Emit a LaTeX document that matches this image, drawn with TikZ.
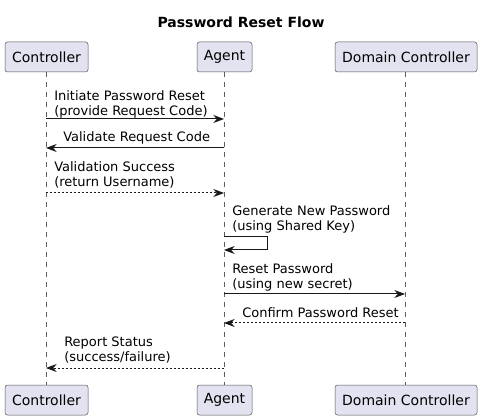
\documentclass[tikz,border=0pt]{standalone}
\usepackage{fontspec}
\setmainfont{DejaVu Sans}
\usetikzlibrary{arrows.meta}
\definecolor{boxfill}{HTML}{E2E2F0}
\definecolor{ink}{HTML}{181818}
\tikzset{
  part/.style={draw=ink!75, fill=boxfill, line width=0.375pt, rounded corners=1.9pt, minimum height=22.5pt, inner sep=0pt, font=\fontsize{10.5pt}{12pt}\selectfont},
  life/.style={draw=ink!70, line width=0.375pt, dash pattern=on 3.75pt off 3.75pt},
  msg/.style={draw=ink, line width=0.75pt, -{Stealth[length=8pt,width=6pt,inset=2.6pt]}},
  reply/.style={msg, dash pattern=on 1.5pt off 1.5pt},
  lbl/.style={anchor=base west, inner sep=0pt, font=\fontsize{9.75pt}{11.25pt}\selectfont},
  ttl/.style={anchor=base, inner sep=0pt, font=\fontsize{10.5pt}{12pt}\selectfont\bfseries}
}
\begin{document}
\begin{tikzpicture}[x=0.75pt,y=-0.75pt]
\useasboundingbox (0,0) rectangle (482,420);
\node[ttl] (title) at (241,28) {Password Reset Flow};
% participants top
\node[part, minimum width=62.25pt] (ct) at (46.5,57) {Controller};
\node[part, minimum width=41.25pt] (at) at (224.5,57) {Agent};
\node[part, minimum width=106.5pt] (dt) at (406,57) {Domain Controller};
% participants bottom
\node[part, minimum width=62.25pt] (cb) at (46.5,400) {Controller};
\node[part, minimum width=41.25pt] (ab) at (224.5,400) {Agent};
\node[part, minimum width=106.5pt] (db) at (406,400) {Domain Controller};
% lifelines
\coordinate (cT) at (46,72); \coordinate (cB) at (46,385);
\coordinate (aT) at (224,72); \coordinate (aB) at (224,385);
\coordinate (dT) at (405,72); \coordinate (dB) at (405,385);
\draw[life] (cT) -- (cB);
\draw[life] (aT) -- (aB);
\draw[life] (dT) -- (dB);
% message points
\coordinate (c1) at (46,119); \coordinate (a1) at (224,119);
\coordinate (c2) at (46,148); \coordinate (a2) at (224,148);
\coordinate (c3) at (46,193); \coordinate (a3) at (224,193);
\coordinate (a4s) at (224,237); \coordinate (l4a) at (267,237); \coordinate (l4b) at (267,250); \coordinate (a4e) at (224,250);
\coordinate (a5) at (224,294); \coordinate (d5) at (405,294);
\coordinate (a6) at (224,323); \coordinate (d6) at (405,323);
\coordinate (a7) at (224,368); \coordinate (c7) at (46,368);
% messages
\draw[msg] (c1) -- (a1);
\node[lbl] (m1a) at (54,101) {Initiate Password Reset};
\node[lbl] (m1b) at (54,116) {(provide Request Code)};
\draw[msg] (a2) -- (c2);
\node[lbl] (m2a) at (63,142) {Validate Request Code};
\draw[reply] (c3) -- (a3);
\node[lbl] (m3a) at (54,172) {Validation Success};
\node[lbl] (m3b) at (54,187) {(return Username)};
\draw[msg] (a4s) -- (l4a) -- (l4b) -- (a4e);
\node[lbl] (m4a) at (232,216) {Generate New Password};
\node[lbl] (m4b) at (232,231) {(using Shared Key)};
\draw[msg] (a5) -- (d5);
\node[lbl] (m5a) at (232,274) {Reset Password};
\node[lbl] (m5b) at (232,289) {(using new secret)};
\draw[reply] (d6) -- (a6);
\node[lbl] (m6a) at (242,318) {Confirm Password Reset};
\draw[reply] (a7) -- (c7);
\node[lbl] (m7a) at (64,347) {Report Status};
\node[lbl] (m7b) at (64,362) {(success/failure)};
\end{tikzpicture}
\end{document}
